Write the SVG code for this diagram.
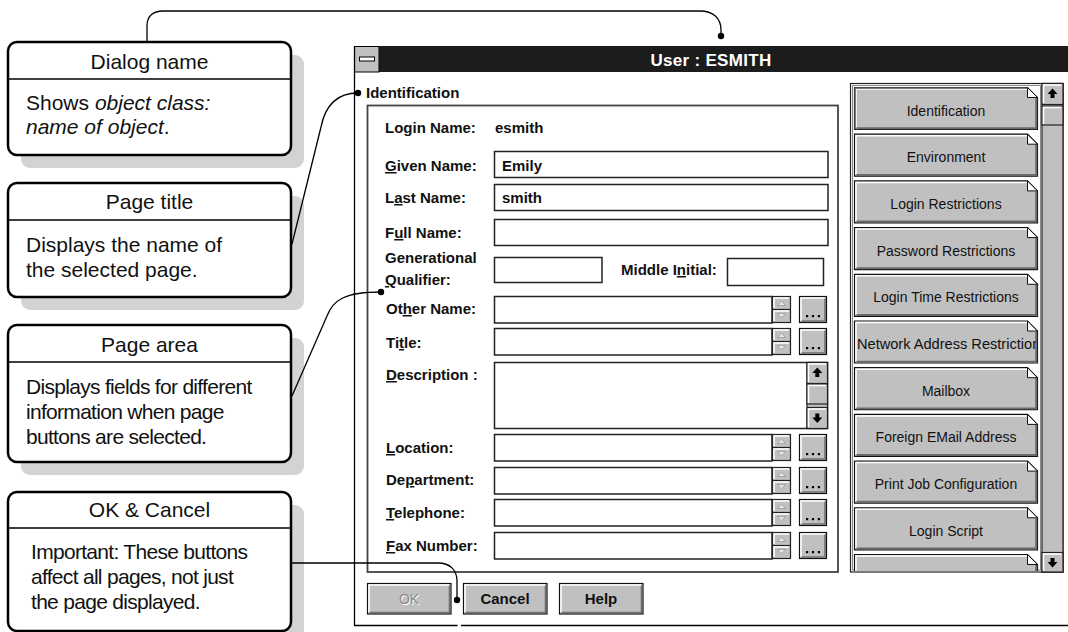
<svg xmlns="http://www.w3.org/2000/svg" xmlns:xlink="http://www.w3.org/1999/xlink" width="1068" height="632" viewBox="0 0 1068 632">
<style>
.shadow{fill:#d3d3d3}
.cbox{fill:#fff;stroke:#000;stroke-width:2.5}
.div{stroke:#000;stroke-width:1.5}
.hd{font-family:"Liberation Sans",Arial,sans-serif;font-size:21px;fill:#111;text-anchor:middle}
.bd{font-family:"Liberation Sans",Arial,sans-serif;font-size:21px;fill:#111}
.bdc{font-family:"Liberation Sans",Arial,sans-serif;font-size:21px;fill:#111;letter-spacing:-0.7px}
.conn{fill:none;stroke:#000;stroke-width:1.3}
.dot{fill:#000}
.lbl{font-family:"Liberation Sans",Arial,sans-serif;font-size:15px;font-weight:bold;fill:#111}
.field{fill:#fff;stroke:#222;stroke-width:1.5}
.gbtn{fill:#c0c0c0;stroke:#111;stroke-width:1.2}
.hl{fill:none;stroke:#fff;stroke-width:1.5}
.sh{fill:none;stroke:#707070;stroke-width:1.6}
.pt{font-family:"Liberation Sans",Arial,sans-serif;font-size:14px;fill:#111;text-anchor:middle}
.bt{font-family:"Liberation Sans",Arial,sans-serif;font-size:15px;font-weight:bold;fill:#111;text-anchor:middle}
</style>
<defs>
  <g id="pbtn">
    <path d="M0.5,0.5 H173.5 L183.5,10.5 V42.5 H0.5 Z" fill="#c0c0c0" stroke="#111" stroke-width="1.2"/>
    <path d="M2,41 V2 H173" class="hl"/>
    <path d="M2.5,41.2 H182.2 V11" stroke="#6a6a6a" stroke-width="2" fill="none"/>
    <path d="M173.5,0.5 L183.5,10.5 H173.5 Z" fill="#fff" stroke="#111" stroke-width="1"/>
  </g>
  <g id="spin">
    <rect x="0.5" y="0.5" width="18" height="26" fill="#c0c0c0" stroke="#222" stroke-width="1.2"/>
    <line x1="0.5" y1="13.5" x2="18.5" y2="13.5" stroke="#222" stroke-width="1.2"/>
    <path d="M2,12 V2 H17" class="hl" stroke-width="1"/>
    <path d="M2,25 V15 H17" class="hl" stroke-width="1"/>
    <path d="M5.5,9.5 L9.5,5 L13.5,9.5 Z" fill="#e6e6e6" stroke="#9a9a9a" stroke-width="0.8"/>
    <path d="M5.5,17.5 L9.5,22 L13.5,17.5 Z" fill="#e6e6e6" stroke="#9a9a9a" stroke-width="0.8"/>
  </g>
  <g id="dots">
    <rect x="0.5" y="0.5" width="27" height="26" class="gbtn"/>
    <path d="M2,25 V2 H26" class="hl"/>
    <path d="M2.5,25 H26 V2.5" class="sh"/>
    <rect x="7" y="19" width="2.2" height="2.2" fill="#000"/>
    <rect x="12.9" y="19" width="2.2" height="2.2" fill="#000"/>
    <rect x="18.8" y="19" width="2.2" height="2.2" fill="#000"/>
  </g>
  <path id="uparrow" d="M0,-5 L5,0.5 H2 V4.5 H-2 V0.5 H-5 Z" fill="#000"/>
  <path id="downarrow" d="M0,5 L5,-0.5 H2 V-4.5 H-2 V-0.5 H-5 Z" fill="#000"/>
  <clipPath id="btnclip"><rect x="2" y="0" width="180" height="43"/></clipPath>
  <clipPath id="panelclip"><rect x="850" y="83" width="214" height="488"/></clipPath>
</defs>

<!-- Callouts -->
<g id="callout-dialog-name">
  <rect x="21" y="55" width="283" height="113" rx="9" class="shadow"/>
  <rect x="8" y="42" width="283" height="113" rx="9" class="cbox"/>
  <line x1="8" y1="79" x2="291" y2="79" class="div"/>
  <text x="149.5" y="69" class="hd">Dialog name</text>
  <text x="26" y="110" class="bd">Shows <tspan font-style="italic">object class:</tspan></text>
  <text x="26" y="134" class="bd" font-style="italic">name of object<tspan font-style="normal">.</tspan></text>
</g>
<g id="callout-page-title">
  <rect x="21" y="196" width="283" height="114" rx="9" class="shadow"/>
  <rect x="8" y="183" width="283" height="114" rx="9" class="cbox"/>
  <line x1="8" y1="220" x2="291" y2="220" class="div"/>
  <text x="149.5" y="209" class="hd">Page title</text>
  <text x="26" y="252" class="bd">Displays the name of</text>
  <text x="26" y="277" class="bd">the selected page.</text>
</g>
<g id="callout-page-area">
  <rect x="21" y="338" width="283" height="137" rx="9" class="shadow"/>
  <rect x="8" y="325" width="283" height="137" rx="9" class="cbox"/>
  <line x1="8" y1="362" x2="291" y2="362" class="div"/>
  <text x="149.5" y="352" class="hd">Page area</text>
  <text x="26" y="394" class="bdc">Displays fields for different</text>
  <text x="26" y="419" class="bdc">information when page</text>
  <text x="26" y="444" class="bdc">buttons are selected.</text>
</g>
<g id="callout-ok-cancel">
  <rect x="21" y="505" width="283" height="140" rx="9" class="shadow"/>
  <rect x="8" y="492" width="283" height="139" rx="9" class="cbox"/>
  <line x1="8" y1="528" x2="291" y2="528" class="div"/>
  <text x="149.5" y="517" class="hd">OK &amp; Cancel</text>
  <text x="31" y="559" class="bdc">Important: These buttons</text>
  <text x="31" y="584" class="bdc">affect all pages, not just</text>
  <text x="31" y="609" class="bdc">the page displayed.</text>
</g>

<!-- Dialog -->
<g id="dialog">
  <rect x="354" y="46" width="714" height="580" fill="#fff"/>
  <rect x="354" y="46" width="714" height="26" fill="#1c1c1c"/>
  <rect x="354.5" y="46.5" width="24.5" height="25.5" fill="#c0c0c0" stroke="#000" stroke-width="1"/>
  <rect x="359.5" y="57" width="15" height="4" fill="#fff" stroke="#000" stroke-width="1"/>
  <text x="711" y="66" font-family="'Liberation Sans',Arial,sans-serif" font-size="17" font-weight="bold" fill="#fff" text-anchor="middle" letter-spacing="0.3">User : ESMITH</text>
  <line x1="354.5" y1="46" x2="354.5" y2="626" stroke="#000" stroke-width="1.3"/>
  <line x1="354" y1="625.5" x2="457.5" y2="625.5" stroke="#000" stroke-width="1.3"/>
  <line x1="461" y1="625.5" x2="1068" y2="625.5" stroke="#000" stroke-width="1.3"/>
</g>

<g id="page-title">
  <text x="366" y="98" class="lbl">Identification</text>
</g>

<g id="page-area">
  <rect x="367.5" y="105.5" width="470.5" height="466.5" fill="none" stroke="#444" stroke-width="1.8"/>
  <text x="385" y="133" class="lbl">Login Name:</text>
  <text x="495" y="133" class="lbl">esmith</text>

  <text x="385" y="171" class="lbl"><tspan text-decoration="underline">G</tspan>iven Name:</text>
  <rect x="494.5" y="151.5" width="333.5" height="26" class="field"/>
  <text x="502" y="171" class="lbl">Emily</text>

  <text x="385" y="203" class="lbl">L<tspan text-decoration="underline">a</tspan>st Name:</text>
  <rect x="494.5" y="184.5" width="333.5" height="26" class="field"/>
  <text x="502" y="203" class="lbl">smith</text>

  <text x="385" y="238" class="lbl">F<tspan text-decoration="underline">u</tspan>ll Name:</text>
  <rect x="494.5" y="219.5" width="333.5" height="26" class="field"/>

  <text x="385" y="263" class="lbl">Generational</text>
  <text x="385" y="285" class="lbl"><tspan text-decoration="underline">Q</tspan>ualifier:</text>
  <rect x="494.5" y="257.5" width="107.5" height="25" class="field"/>
  <text x="621" y="275" class="lbl">Middle I<tspan text-decoration="underline">n</tspan>itial:</text>
  <rect x="727.5" y="258.5" width="96" height="27" class="field"/>

  <text x="386" y="314" class="lbl">Ot<tspan text-decoration="underline">h</tspan>er Name:</text>
  <rect x="494.5" y="296.5" width="277.5" height="26.5" class="field"/>
  <use xlink:href="#spin" x="772" y="296"/>
  <use xlink:href="#dots" x="799" y="296"/>

  <text x="386" y="348" class="lbl">Ti<tspan text-decoration="underline">t</tspan>le:</text>
  <rect x="494.5" y="328.5" width="277.5" height="26.5" class="field"/>
  <use xlink:href="#spin" x="772" y="328"/>
  <use xlink:href="#dots" x="799" y="328"/>

  <text x="386" y="380" class="lbl"><tspan text-decoration="underline">D</tspan>escription :</text>
  <rect x="494.5" y="362.5" width="333" height="66" class="field"/>
  <rect x="807" y="362.5" width="20.5" height="66" fill="#c0c0c0" stroke="#222" stroke-width="1.2"/>
  <rect x="807" y="362.5" width="20.5" height="21" fill="#c0c0c0" stroke="#222" stroke-width="1.2"/>
  <path d="M808.5,382 V364 H826" class="hl"/>
  <use xlink:href="#uparrow" x="817.3" y="372.5"/>
  <rect x="807" y="384" width="20.5" height="20" fill="#c0c0c0" stroke="#222" stroke-width="1.2"/>
  <path d="M808.5,403 V385.5 H826" class="hl"/>
  <rect x="807" y="407.5" width="20.5" height="21" fill="#c0c0c0" stroke="#222" stroke-width="1.2"/>
  <path d="M808.5,427 V409 H826" class="hl"/>
  <use xlink:href="#downarrow" x="817.3" y="418"/>

  <text x="386" y="453" class="lbl"><tspan text-decoration="underline">L</tspan>ocation:</text>
  <rect x="494.5" y="434.5" width="277.5" height="26.5" class="field"/>
  <use xlink:href="#spin" x="772" y="434"/>
  <use xlink:href="#dots" x="799" y="434"/>

  <text x="386" y="485" class="lbl">De<tspan text-decoration="underline">p</tspan>artment:</text>
  <rect x="494.5" y="467.5" width="277.5" height="26.5" class="field"/>
  <use xlink:href="#spin" x="772" y="467"/>
  <use xlink:href="#dots" x="799" y="467"/>

  <text x="386" y="518" class="lbl"><tspan text-decoration="underline">T</tspan>elephone:</text>
  <rect x="494.5" y="499.5" width="277.5" height="26.5" class="field"/>
  <use xlink:href="#spin" x="772" y="499"/>
  <use xlink:href="#dots" x="799" y="499"/>

  <text x="386" y="551" class="lbl"><tspan text-decoration="underline">F</tspan>ax Number:</text>
  <rect x="494.5" y="532.5" width="277.5" height="26.5" class="field"/>
  <use xlink:href="#spin" x="772" y="532"/>
  <use xlink:href="#dots" x="799" y="532"/>
</g>

<g id="ok-cancel-buttons">
  <g>
    <rect x="367.5" y="583.5" width="83.5" height="30.5" class="gbtn"/>
    <path d="M369,612.5 V585 H449.5" class="hl"/>
    <path d="M369.5,612.5 H449.5 V585.5" class="sh"/>
    <text x="410" y="605" font-family="'Liberation Sans',Arial,sans-serif" font-size="14" fill="#fff" text-anchor="middle">OK</text>
    <text x="409" y="604" font-family="'Liberation Sans',Arial,sans-serif" font-size="14" fill="#8a8a8a" text-anchor="middle">OK</text>
  </g>
  <g>
    <rect x="463.5" y="583.5" width="83.5" height="30.5" class="gbtn"/>
    <path d="M465,612.5 V585 H545.5" class="hl"/>
    <path d="M465.5,612.5 H545.5 V585.5" class="sh"/>
    <text x="505" y="604" class="bt">Cancel</text>
  </g>
  <g>
    <rect x="559.5" y="583.5" width="83.5" height="30.5" class="gbtn"/>
    <path d="M561,612.5 V585 H641.5" class="hl"/>
    <path d="M561.5,612.5 H641.5 V585.5" class="sh"/>
    <text x="601" y="604" class="bt">Help</text>
  </g>
</g>

<g id="page-buttons">
  <rect x="850.5" y="83.5" width="212.5" height="488.5" fill="#fff" stroke="#222" stroke-width="1.2"/>
  <rect x="852.5" y="85.5" width="188" height="484.5" fill="none" stroke="#888" stroke-width="1"/>
  <g clip-path="url(#panelclip)">
    <g transform="translate(854,87)"><use xlink:href="#pbtn"/><path d="M1,42 V1 H173" fill="none" stroke="#555" stroke-width="1.5"/><text x="92" y="28.5" class="pt">Identification</text></g>
    <g transform="translate(854,133.7)"><use xlink:href="#pbtn"/><text x="92" y="28.5" class="pt">Environment</text></g>
    <g transform="translate(854,180.4)"><use xlink:href="#pbtn"/><text x="92" y="28.5" class="pt">Login Restrictions</text></g>
    <g transform="translate(854,227.1)"><use xlink:href="#pbtn"/><text x="92" y="28.5" class="pt">Password Restrictions</text></g>
    <g transform="translate(854,273.8)"><use xlink:href="#pbtn"/><text x="92" y="28.5" class="pt">Login Time Restrictions</text></g>
    <g transform="translate(854,320.5)"><use xlink:href="#pbtn"/><text x="3" y="28.5" class="pt" font-size="14.6" style="text-anchor:start;font-size:14.6px" clip-path="url(#btnclip)">Network Address Restriction</text></g>
    <g transform="translate(854,367.2)"><use xlink:href="#pbtn"/><text x="92" y="28.5" class="pt">Mailbox</text></g>
    <g transform="translate(854,413.9)"><use xlink:href="#pbtn"/><text x="92" y="28.5" class="pt">Foreign EMail Address</text></g>
    <g transform="translate(854,460.6)"><use xlink:href="#pbtn"/><text x="92" y="28.5" class="pt">Print Job Configuration</text></g>
    <g transform="translate(854,507.3)"><use xlink:href="#pbtn"/><text x="92" y="28.5" class="pt">Login Script</text></g>
    <g transform="translate(854,554)"><use xlink:href="#pbtn"/></g>
  </g>
  <rect x="1042" y="83.5" width="21" height="488.5" fill="#c0c0c0" stroke="#222" stroke-width="1.2"/>
  <rect x="1042" y="83.5" width="21" height="21" fill="#c0c0c0" stroke="#222" stroke-width="1.2"/>
  <path d="M1043.5,103 V85 H1061.5" class="hl"/>
  <use xlink:href="#uparrow" x="1052.5" y="93.5"/>
  <rect x="1042" y="106" width="21" height="19" fill="#c0c0c0" stroke="#222" stroke-width="1.2"/>
  <path d="M1043.5,124 V107.5 H1061.5" class="hl"/>
  <rect x="1042" y="552.5" width="21" height="19.5" fill="#c0c0c0" stroke="#222" stroke-width="1.2"/>
  <path d="M1043.5,570.5 V554 H1061.5" class="hl"/>
  <use xlink:href="#downarrow" x="1052.5" y="562.5"/>
</g>

<!-- Connectors -->
<g id="connectors">
  <path d="M147,42 V26 C147,16 153,11 163,11 H700 C713,11 721,18 721,30 V36" class="conn"/>
  <circle cx="721" cy="36" r="3.2" class="dot"/>
  <path d="M292,244 L321,127 C325,107 336,93 358,93" class="conn"/>
  <circle cx="358" cy="93" r="3.2" class="dot"/>
  <path d="M292,396 L327,316 C333,300 345,292 381,292" class="conn"/>
  <circle cx="381" cy="292" r="3.2" class="dot"/>
  <path d="M292,563 H438 C450,563 457,570 457,581 V600" class="conn"/>
  <circle cx="457" cy="600" r="3.2" class="dot"/>
</g>
</svg>
